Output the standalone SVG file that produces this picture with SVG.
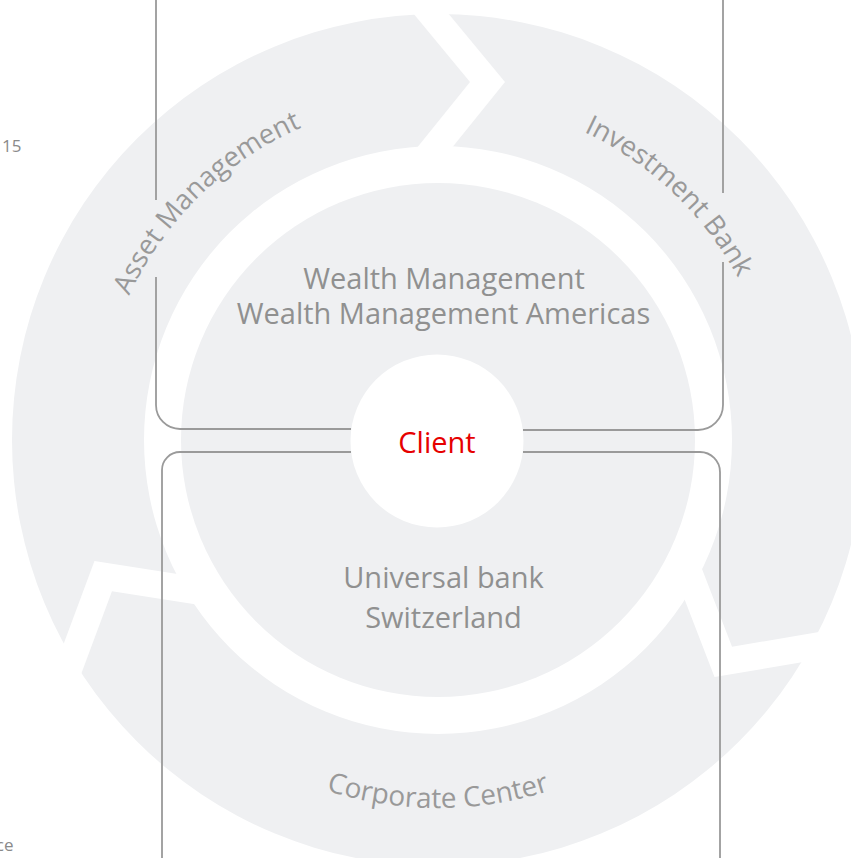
<svg xmlns="http://www.w3.org/2000/svg" xmlns:xlink="http://www.w3.org/1999/xlink" width="851" height="858" viewBox="0 0 851 858">
  <style>
    .ring{fill:#eff0f2}
    .gap{fill:#ffffff}
    .conn{fill:none;stroke:#9a9a9a;stroke-width:1.8}
    .lbl{font-family:"Open Sans","Liberation Sans",sans-serif;font-size:29px;fill:#909090}
    .arc{font-family:"Open Sans","Liberation Sans",sans-serif;font-size:27.5px;fill:#999999}
    .client{font-family:"Open Sans","Liberation Sans",sans-serif;font-size:29px;fill:#e60000}
    .small{font-family:"Open Sans","Liberation Sans",sans-serif;font-size:17px;fill:#8a8a8a}
  </style>
  <defs>
    <polygon id="chevron" points="384,-22 470,82 395,175 430,175 505,82 419,-22"/>
    <path id="topArc" d="M 97 440 A 341 341 0 0 1 779 440"/>
    <path id="bottomArc" d="M 70 440 A 368 368 0 0 0 806 440"/>
  </defs>
  <rect width="851" height="858" fill="#ffffff"/>
  <g id="cycle">
    <path class="ring" fill-rule="evenodd" d="M 12 440 A 426 426 0 1 0 864 440 A 426 426 0 1 0 12 440 Z M 144 440 A 294 294 0 1 0 732 440 A 294 294 0 1 0 144 440 Z"/>
    <use href="#chevron" class="gap"/>
    <use href="#chevron" class="gap" transform="rotate(120 438 440)"/>
    <use href="#chevron" class="gap" transform="rotate(240 438 440)"/>
    <circle class="ring" cx="438" cy="440" r="257"/>
  </g>
  <g id="client">
    <circle cx="437" cy="441" r="86.5" fill="#ffffff"/>
    <text class="client" x="437" y="453" text-anchor="middle">Client</text>
  </g>
  <g id="connectors">
    <path class="conn" d="M 156 -2 V 200 M 156 277 V 405 A 24 24 0 0 0 180 429 H 351"/>
    <path class="conn" d="M 723 -2 V 193 M 723 262 V 405 A 25 25 0 0 1 698 430 H 523"/>
    <path class="conn" d="M 351 452 H 180 A 18 18 0 0 0 162 470 V 860"/>
    <path class="conn" d="M 523 452 H 700 A 20 20 0 0 1 720 472 V 860"/>
  </g>
  <g id="asset-management">
    <text class="arc"><textPath href="#topArc" startOffset="272" text-anchor="middle">Asset Management</textPath></text>
  </g>
  <g id="investment-bank">
    <text class="arc"><textPath href="#topArc" startOffset="794" text-anchor="middle">Investment Bank</textPath></text>
  </g>
  <g id="corporate-center">
    <text class="arc" style="font-size:28px"><textPath href="#bottomArc" startOffset="50%" text-anchor="middle">Corporate Center</textPath></text>
  </g>
  <g id="wealth-management">
    <text class="lbl" x="444" y="289" text-anchor="middle">Wealth Management</text>
    <text class="lbl" x="443.5" y="324" text-anchor="middle">Wealth Management Americas</text>
  </g>
  <g id="universal-bank">
    <text class="lbl" x="443.5" y="588" text-anchor="middle">Universal bank</text>
    <text class="lbl" x="443.5" y="628" text-anchor="middle">Switzerland</text>
  </g>
  <text class="small" x="2" y="152">15</text>
  <text class="small" x="13.5" y="851" text-anchor="end">ce</text>
</svg>
